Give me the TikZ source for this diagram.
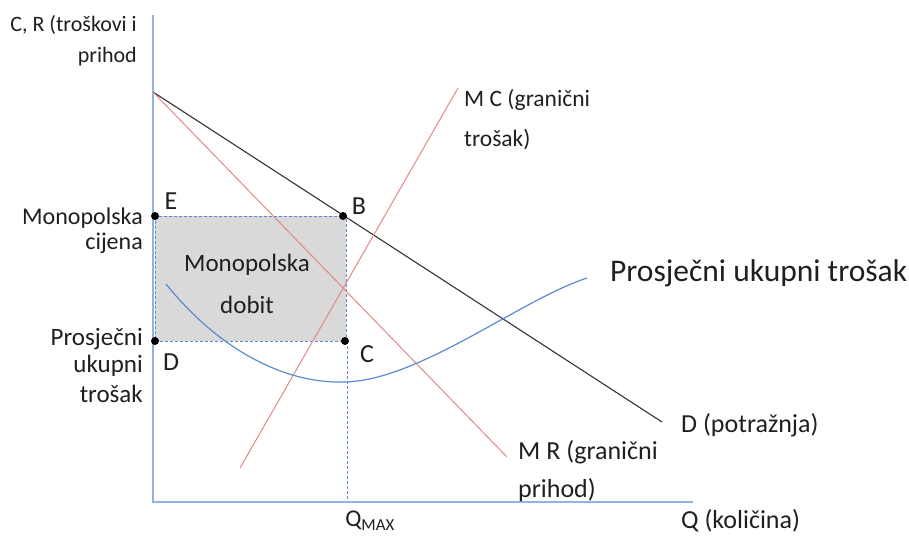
\documentclass[tikz,border=0pt]{standalone}
\usepackage{fontspec}
\setmainfont{Carlito}
\definecolor{axisblue}{HTML}{8EB4E3}
\definecolor{curveblue}{HTML}{5B8BD0}
\definecolor{lred}{HTML}{E08A8A}
\definecolor{dgrey}{HTML}{333333}
\definecolor{boxgrey}{HTML}{D9D9D9}
\definecolor{txt}{HTML}{1F1F1F}
\newcommand{\fs}[1]{\fontsize{#1}{#1}\selectfont}
\begin{document}
\begin{tikzpicture}[x=1pt,y=-1pt,
  lbl/.style={font=\fs{23}, text=txt, inner sep=0pt},
  axis/.style={draw=axisblue, line width=1.6pt},
  dline/.style={draw=curveblue, line width=0.9pt, dash pattern=on 3pt off 2pt},
  dot/.style={circle, fill=black, inner sep=0pt, minimum size=8pt}]
\useasboundingbox (0,0) rectangle (909,535);
% profit box
\fill[boxgrey] (155,216) rectangle (346,341);
\draw[dline] (155,216) rectangle (346,341);
\coordinate (Qb) at (347,502);
\coordinate (Ct) at (347,341);
\draw[dline] (Ct) -- (Qb);
% axes
\coordinate (O) at (153,502);
\coordinate (Ytop) at (153,15);
\coordinate (Xend) at (693,502);
\draw[axis] (Ytop) -- (O) -- (Xend);
% demand
\coordinate (P0) at (153,92);
\coordinate (Dend) at (662,422);
\draw[dgrey, line width=1.1pt] (P0) -- (Dend);
% MR
\coordinate (MRend) at (507,457);
\draw[lred, line width=1pt] (P0) -- (MRend);
% MC
\coordinate (MCa) at (240,468);
\coordinate (MCb) at (458,88);
\draw[lred, line width=1pt] (MCa) -- (MCb);
% ATC
\coordinate (A0) at (166,284);
\coordinate (Amin) at (345,382);
\coordinate (A1) at (587,278);
\draw[curveblue, line width=1.2pt] (A0) .. controls (215,345) and (280,384) .. (Amin) .. controls (420,380) and (520,300) .. (A1);
% dots
\node[dot] (E) at (155,216) {};
\node[dot] (B) at (343,216) {};
\node[dot] (D) at (155,341) {};
\node[dot] (C) at (345,341) {};
% point labels
\node[lbl, font=\fs{26}] (lE) at (171,201) {E};
\node[lbl, font=\fs{26}] (lB) at (359,206) {B};
\node[lbl, font=\fs{26}] (lD) at (171,362) {D};
\node[lbl, font=\fs{26}] (lC) at (367,354) {C};
% axis labels
\node[lbl, font=\fs{22}, anchor=east] (yl1) at (137,25) {C, R (troškovi i};
\node[lbl, font=\fs{22}, anchor=east] (yl2) at (137,57) {prihod};
\node[lbl, font=\fs{24}, anchor=east] (mc1) at (143,218) {Monopolska};
\node[lbl, font=\fs{24}, anchor=east] (mc2) at (143,243) {cijena};
\node[lbl, font=\fs{25}, anchor=east] (pu1) at (143,339) {Prosječni};
\node[lbl, font=\fs{25}, anchor=east] (pu2) at (143,366) {ukupni};
\node[lbl, font=\fs{25}, anchor=east] (pu3) at (143,394) {trošak};
\node[lbl, font=\fs{25}] (md1) at (247,265) {Monopolska};
\node[lbl, font=\fs{25}] (md2) at (247,305) {dobit};
\node[lbl, font=\fs{23.5}, anchor=west] (mcl1) at (464,100) {M C (granični};
\node[lbl, font=\fs{23.5}, anchor=west] (mcl2) at (464,140) {trošak)};
\node[lbl, font=\fs{31.5}, anchor=west] (atc) at (610,273) {Prosječni ukupni trošak};
\node[lbl, font=\fs{26}, anchor=west] (dl) at (681,425) {D (potražnja)};
\node[lbl, font=\fs{26}, anchor=west] (mr1) at (518,452) {M R (granični};
\node[lbl, font=\fs{26}, anchor=west] (mr2) at (518,490) {prihod)};
\node[lbl, font=\fs{24}] (qmax) at (370,521) {Q\textsubscript{MAX}};
\node[lbl, font=\fs{26}, anchor=west] (ql) at (681,521) {Q (količina)};
\end{tikzpicture}
\end{document}
